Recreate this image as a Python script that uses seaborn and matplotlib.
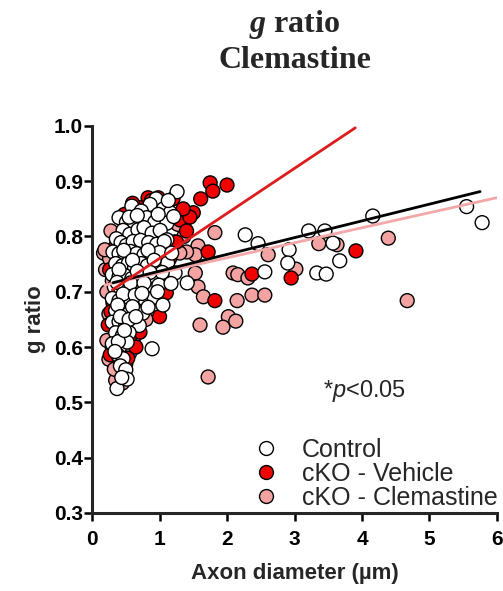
import numpy as np
import pandas as pd
import seaborn as sns
import matplotlib.pyplot as plt

# (axon diameter um, g ratio)
control_pts = [
    (0.59, 0.855), (0.40, 0.834), (0.95, 0.868), (0.86, 0.858), (1.26, 0.881), (1.06, 0.850),
    (1.16, 0.843), (0.73, 0.846), (0.51, 0.826), (0.63, 0.821), (0.81, 0.834), (0.93, 0.826),
    (1.11, 0.824), (1.21, 0.836), (0.46, 0.811), (0.56, 0.804), (0.68, 0.812), (0.77, 0.816),
    (0.89, 0.806), (1.01, 0.811), (1.11, 0.794), (0.36, 0.796), (0.43, 0.789), (0.51, 0.784),
    (0.61, 0.791), (0.72, 0.793), (0.84, 0.789), (0.96, 0.786), (1.07, 0.791), (0.31, 0.772),
    (0.40, 0.769), (0.49, 0.764), (0.57, 0.773), (0.66, 0.769), (0.77, 0.767), (0.88, 0.766),
    (1.00, 0.771), (0.35, 0.751), (0.45, 0.747), (0.54, 0.752), (0.63, 0.744), (0.73, 0.751),
    (0.82, 0.747), (0.94, 0.744), (1.12, 0.752), (1.23, 0.734), (0.30, 0.731), (0.40, 0.727),
    (0.49, 0.729), (0.59, 0.724), (0.69, 0.729), (0.80, 0.724), (0.91, 0.727), (1.04, 0.735),
    (0.33, 0.709), (0.43, 0.704), (0.53, 0.709), (0.62, 0.701), (0.72, 0.707), (0.85, 0.704),
    (0.99, 0.712), (0.30, 0.688), (0.40, 0.684), (0.49, 0.689), (0.58, 0.681), (0.68, 0.688),
    (0.79, 0.684), (0.92, 0.690), (1.05, 0.676), (0.35, 0.666), (0.45, 0.668), (0.55, 0.661),
    (0.65, 0.667), (0.75, 0.661), (0.30, 0.645), (0.40, 0.646), (0.50, 0.641), (0.60, 0.648),
    (0.70, 0.639), (0.35, 0.626), (0.45, 0.621), (0.55, 0.626), (0.30, 0.606), (0.42, 0.602),
    (0.52, 0.609), (0.89, 0.597), (0.38, 0.586), (0.46, 0.579), (0.42, 0.566), (0.50, 0.559),
    (0.52, 0.542), (0.37, 0.525), (0.55, 0.835), (0.67, 0.838), (0.98, 0.840), (0.47, 0.775),
    (0.83, 0.775), (0.60, 0.757), (0.92, 0.757), (0.40, 0.740), (0.67, 0.737), (0.86, 0.735),
    (0.37, 0.717), (0.57, 0.716), (0.77, 0.716), (0.46, 0.696), (0.64, 0.694), (0.74, 0.697),
    (0.38, 0.676), (0.60, 0.673), (0.83, 0.672), (0.42, 0.655), (0.55, 0.650), (0.65, 0.655),
    (0.39, 0.610), (0.48, 0.630), (0.34, 0.592), (0.44, 0.545), (1.18, 0.770), (1.17, 0.715),
    (0.97, 0.700), (1.13, 0.865),
    (1.41, 0.716), (2.27, 0.803), (2.46, 0.787), (2.92, 0.776),
    (2.90, 0.752), (2.56, 0.736), (3.21, 0.810), (3.45, 0.810), (3.57, 0.788), (3.67, 0.756),
    (3.33, 0.734), (3.47, 0.732), (4.16, 0.837), (5.55, 0.854), (5.78, 0.825),
]
vehicle_pts = [
    (1.75, 0.897), (1.79, 0.882), (2.00, 0.893), (1.61, 0.868), (1.72, 0.772), (1.82, 0.684),
    (2.37, 0.732), (2.95, 0.725), (3.91, 0.774), (1.20, 0.868), (1.30, 0.830), (1.50, 0.843),
    (1.45, 0.835), (0.83, 0.870), (0.71, 0.852), (0.36, 0.785), (0.31, 0.680), (0.24, 0.640),
    (1.00, 0.655), (0.71, 0.627), (1.05, 0.725), (1.10, 0.698), (0.53, 0.580), (0.28, 0.664),
    (0.27, 0.586), (0.55, 0.615), (0.88, 0.865), (0.98, 0.870), (0.40, 0.720), (1.35, 0.850),
    (0.65, 0.600), (0.45, 0.545), (1.25, 0.790), (0.26, 0.740), (0.78, 0.700), (1.15, 0.760),
    (0.60, 0.860), (0.48, 0.840), (1.40, 0.810), (0.95, 0.760),
]
clemastine_pts = [
    (0.17, 0.770), (1.82, 0.807), (1.57, 0.783), (1.53, 0.767), (2.61, 0.767), (2.09, 0.734),
    (2.16, 0.731), (2.31, 0.725), (1.53, 0.734), (1.57, 0.709), (1.65, 0.691), (2.15, 0.684),
    (2.37, 0.694), (2.56, 0.694), (1.60, 0.640), (2.02, 0.655), (1.94, 0.636), (2.13, 0.647),
    (1.72, 0.546), (3.36, 0.787), (3.63, 0.785), (4.39, 0.797), (3.02, 0.741), (4.67, 0.684),
    (0.20, 0.740), (0.22, 0.700), (0.25, 0.660), (0.22, 0.612), (0.25, 0.578), (0.35, 0.540),
    (0.45, 0.535), (0.40, 0.556), (0.30, 0.600), (0.48, 0.600), (0.56, 0.590), (0.60, 0.640),
    (0.63, 0.620), (0.70, 0.660), (0.90, 0.720), (1.10, 0.730), (1.22, 0.790), (1.27, 0.822),
    (1.32, 0.842), (1.36, 0.800), (1.40, 0.772), (1.30, 0.770), (0.26, 0.760), (0.30, 0.720),
    (0.19, 0.776), (0.50, 0.570), (0.33, 0.560), (0.80, 0.650), (1.00, 0.690), (1.38, 0.830),
    (0.28, 0.810), (0.38, 0.640),
]

groups = ['Control', 'cKO - Vehicle', 'cKO - Clemastine']
colors = {'Control': 'white', 'cKO - Vehicle': '#f20000', 'cKO - Clemastine': '#f4a3a3'}
line_colors = {'Control': 'black', 'cKO - Vehicle': '#dd1c1c', 'cKO - Clemastine': '#f2a8a8'}

# linear fits: slope, intercept, x range of the line
fit_slope = {'Control': 0.0303, 'cKO - Vehicle': 0.0814, 'cKO - Clemastine': 0.0272}
fit_icpt = {'Control': 0.707, 'cKO - Vehicle': 0.679, 'cKO - Clemastine': 0.707}
fit_xrange = {'Control': (0.31, 5.75), 'cKO - Vehicle': (0.30, 3.90), 'cKO - Clemastine': (0.19, 6.0)}

# drawing order: pink at the bottom, white on top
frames = []
for name, pts in [('cKO - Clemastine', clemastine_pts), ('cKO - Vehicle', vehicle_pts),
                  ('Control', control_pts)]:
    d = pd.DataFrame(pts, columns=['diam', 'g'])
    d['group'] = name
    frames.append(d)
df = pd.concat(frames, ignore_index=True)

sns.set_style('ticks')
plt.rcParams['font.family'] = ['Liberation Sans', 'DejaVu Sans']
plt.rcParams['mathtext.fontset'] = 'custom'
plt.rcParams['mathtext.it'] = 'Liberation Serif:italic:bold'
plt.rcParams['mathtext.rm'] = 'Liberation Serif:bold'
plt.rcParams['mathtext.sf'] = 'Liberation Sans:italic'

fig = plt.figure(figsize=(5.03, 5.91), dpi=100)
ax = fig.add_axes([0.183, 0.132, 0.805, 0.655])

sns.scatterplot(data=df, x='diam', y='g', hue='group', hue_order=groups, palette=colors,
                s=100, edgecolor='black', linewidth=1.0, ax=ax, zorder=3)

for name in ['cKO - Clemastine', 'Control', 'cKO - Vehicle']:
    xs = np.array(fit_xrange[name])
    ax.plot(xs, fit_slope[name] * xs + fit_icpt[name], color=line_colors[name], lw=2.0, zorder=4)

ax.set_xlim(0, 6)
ax.set_ylim(0.3, 1.0)
ax.set_xticks(range(0, 7))
ax.set_yticks(np.arange(0.3, 1.01, 0.1))
ax.set_yticklabels([f'{v:.1f}' for v in np.arange(0.3, 1.01, 0.1)])
sns.despine(ax=ax)
for sp in ['left', 'bottom']:
    ax.spines[sp].set_linewidth(2.2)
ax.tick_params(axis='both', width=1.8, length=5.5, labelsize=15, colors='black')
ax.tick_params(axis='x', pad=7)
ax.tick_params(axis='y', pad=1)
for lab in ax.get_xticklabels() + ax.get_yticklabels():
    lab.set_fontweight('bold')

ax.set_xlabel('Axon diameter (µm)', fontsize=16, fontweight='bold', labelpad=10)
ax.set_ylabel('g ratio', fontsize=16, fontweight='bold', labelpad=6)
ax.set_title(r'$\mathit{g}$ ratio' + '\nClemastine', fontsize=23, fontweight='bold',
             family='Liberation Serif', pad=42, linespacing=1.2)

ax.text(3.42, 0.51, r'*$\mathsf{p}$<0.05', fontsize=17)

handles, labels = ax.get_legend_handles_labels()
ax.legend(handles, labels, loc='lower right', bbox_to_anchor=(1.045, -0.038), frameon=False,
          fontsize=18, handletextpad=0.45, labelspacing=0.0, borderpad=0.2, markerscale=1.0)

fig.savefig('out.png', dpi=100)
